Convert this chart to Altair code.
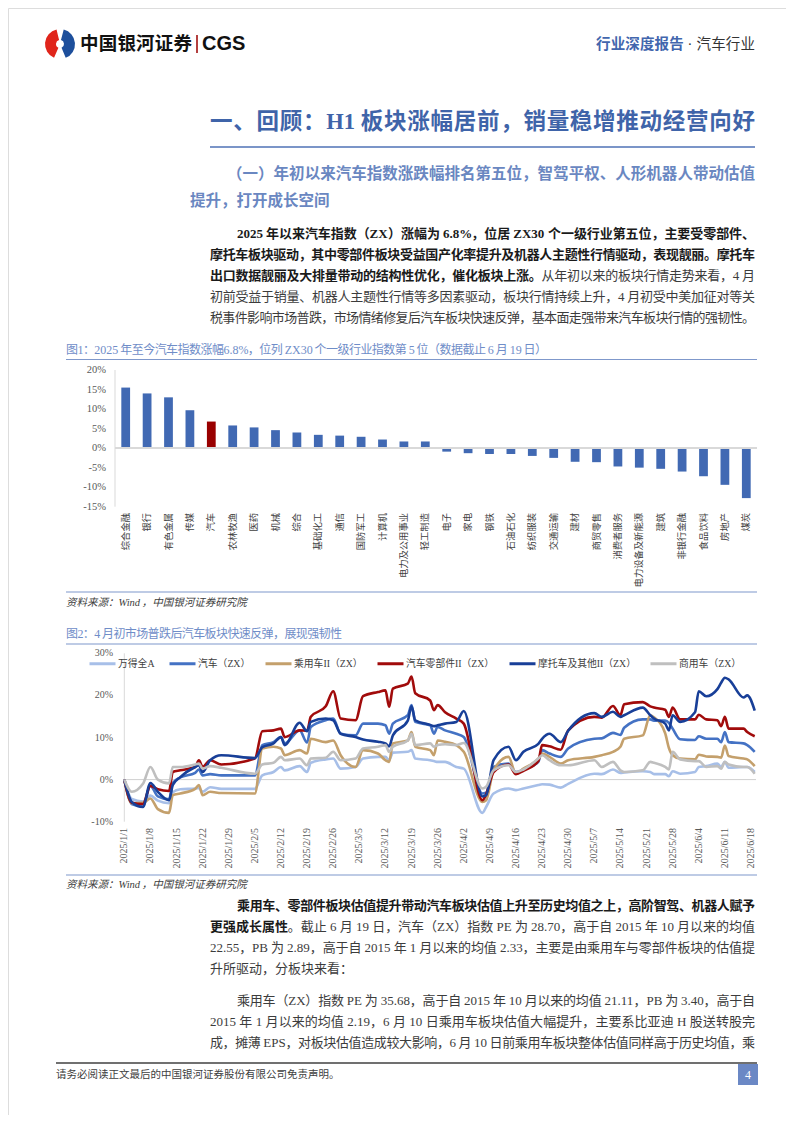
import altair as alt
import pandas as pd

SERIF = "Liberation Serif, Noto Sans CJK SC"
SANS = "Liberation Sans, Noto Sans CJK SC"

# ---------------- Figure 1 data ----------------
industries = ["综合金融", "银行", "有色金属", "传媒", "汽车", "农林牧渔", "医药", "机械", "综合", "基础化工",
              "通信", "国防军工", "计算机", "电力及公用事业", "轻工制造", "电子", "家电", "钢铁", "石油石化", "纺织服装",
              "交通运输", "建材", "商贸零售", "消费者服务", "电力设备及新能源", "建筑", "非银行金融", "食品饮料", "房地产", "煤炭"]
returns_pct = [15.5, 14.0, 13.0, 9.7, 6.8, 5.8, 5.3, 4.6, 4.0, 3.4,
               3.2, 2.9, 2.2, 1.7, 1.7, -0.9, -1.3, -1.5, -1.5, -2.0,
               -2.5, -3.5, -3.6, -4.7, -5.0, -5.3, -6.0, -7.2, -9.4, -12.8]
highlight_industry = "汽车"
bar_tick_values = [20, 15, 10, 5, 0, -5, -10, -15]

# ---------------- Figure 2 data ----------------
trade_dates = ["2025-01-01", "2025-01-03", "2025-01-06", "2025-01-08", "2025-01-10", "2025-01-13", "2025-01-14",
               "2025-01-16", "2025-01-20", "2025-01-21", "2025-01-22", "2025-01-24", "2025-01-27",
               "2025-02-05", "2025-02-07", "2025-02-10", "2025-02-12", "2025-02-13", "2025-02-17", "2025-02-19",
               "2025-02-20", "2025-02-24", "2025-02-26", "2025-02-28", "2025-03-04", "2025-03-06", "2025-03-10",
               "2025-03-12", "2025-03-13", "2025-03-14", "2025-03-18", "2025-03-19", "2025-03-20", "2025-03-24",
               "2025-03-25", "2025-03-26", "2025-03-28", "2025-03-31", "2025-04-02",
               "2025-04-07", "2025-04-08", "2025-04-10", "2025-04-14", "2025-04-16", "2025-04-18", "2025-04-22",
               "2025-04-23", "2025-04-25", "2025-04-28", "2025-04-30",
               "2025-05-07", "2025-05-09", "2025-05-12", "2025-05-14", "2025-05-15", "2025-05-20", "2025-05-22",
               "2025-05-23", "2025-05-26", "2025-05-27", "2025-05-28", "2025-05-30", "2025-06-03", "2025-06-04",
               "2025-06-06", "2025-06-09", "2025-06-10", "2025-06-11", "2025-06-12", "2025-06-16", "2025-06-17",
               "2025-06-19"]
series_names = ["万得全A", "汽车（ZX）", "乘用车II（ZX）", "汽车零部件II（ZX）", "摩托车及其他II（ZX）", "商用车（ZX）"]
series_colors = ["#a7bfe8", "#4472c4", "#c4a06c", "#a10b0b", "#183f98", "#bfbfbf"]
wind_all_a = [0, -4.6, -5.2, -3.8, -5.0, -5.6, -3.0, -2.3, -2.1, -2.0, -2.9, -1.8, -2.2,
              -2.2, 1.0, 1.8, 3.0, 2.2, 3.2, 1.8, 4.0, 4.8, 5.0, 2.6, 3.0, 5.0, 5.4, 5.4, 4.6, 6.4, 6.6, 7.0, 5.0,
              4.6, 4.4, 4.2, 4.2, 3.0, 2.6,
              -7.9, -6.5, -3.3, -2.1, -2.5, -2.1, -1.3, -1.1, -1.2, -1.9, -1.0,
              1.4, 1.3, 2.4, 1.6, 1.7, 2.0, 1.8, 1.3, 1.3, 0.8, 2.0, 1.4, 1.8, 3.0, 3.2, 3.8, 3.0, 4.2, 2.8, 3.0,
              3.0, 1.8]
auto_zx = [0, -5.8, -6.4, -1.5, -4.0, -4.7, -0.8, 0.5, 1.6, 2.4, 1.0, 1.3, 1.0,
           1.0, 8.2, 8.9, 10.1, 8.6, 11.7, 8.8, 12.5, 14.1, 14.5, 10.9, 10.5, 13.3, 13.3, 12.9, 10.9, 13.3, 15.3,
           17.7, 13.7, 12.9, 10.9, 12.5, 11.7, 10.9, 10.1,
           -3.3, -3.1, 3.0, 3.8, 1.8, 2.4, 4.2, 7.0, 6.2, 5.4, 7.4,
           9.7, 9.8, 11.1, 10.6, 12.3, 14.3, 14.3, 14.0, 14.0, 13.5, 12.1, 9.6, 9.4, 10.3, 9.7, 9.7, 8.9, 11.3,
           8.9, 8.6, 8.2, 6.6]
passenger_car = [0, -5.6, -5.5, -4.5, -7.0, -7.9, -3.7, -3.3, -2.2, -1.3, -3.7, -2.9, -3.2,
                 -3.3, 7.4, 7.8, 7.4, 5.8, 7.0, 6.2, 9.7, 8.9, 9.3, 5.8, 3.0, 7.0, 6.2, 4.6, 4.2, 8.6, 9.3, 11.3,
                 7.8, 7.0, 5.8, 9.3, 9.0, 8.2, 6.6,
                 -5.3, -4.9, 2.2, 5.4, 1.4, 2.6, 5.0, 6.2, 5.4, 3.8, 4.6,
                 5.4, 5.8, 6.6, 7.8, 9.7, 10.5, 15.3, 14.8, 11.0, 7.5, 5.8, 5.0, 4.8, 5.9, 5.5, 5.4, 5.2, 8.1, 5.6,
                 5.0, 4.8, 3.2]
auto_parts = [0, -5.5, -5.8, -1.5, -2.3, -2.7, 1.8, 2.2, 3.0, 4.6, 3.0, 4.6, 3.6,
              5.0, 11.5, 11.7, 12.1, 10.1, 11.7, 11.6, 14.9, 17.4, 21.0, 14.5, 14.1, 19.8, 20.8, 21.2, 17.3, 21.6,
              22.8, 24.5, 20.5, 18.8, 16.5, 17.7, 16.0, 14.5, 13.3,
              -4.9, -3.5, 1.8, 3.6, 1.3, 2.1, 4.4, 8.2, 7.9, 7.1, 11.7,
              14.9, 14.7, 17.5, 15.3, 17.9, 18.4, 17.4, 17.1, 16.6, 14.9, 17.1, 14.3, 14.3, 15.4, 14.3, 14.1, 12.7,
              14.9, 12.1, 12.1, 11.3, 10.3]
motorcycle = [0, -5.3, -6.5, -0.8, -2.9, -4.9, -1.3, 0.6, 3.0, 3.4, 1.8, 4.6, 5.8,
              5.1, 7.7, 8.6, 10.1, 8.2, 13.5, 11.5, 13.7, 14.5, 14.1, 10.9, 10.1, 9.5, 9.0, 8.6, 7.9, 10.5, 14.0,
              17.4, 14.1, 13.0, 12.7, 12.9, 13.3, 13.7, 16.3,
              -4.0, -3.7, 4.6, 7.8, 4.6, 6.6, 8.5, 9.7, 10.9, 8.9, 11.6,
              15.8, 14.9, 16.1, 14.9, 15.3, 17.1, 15.3, 14.5, 13.3, 11.7, 15.3, 13.7, 16.0, 21.0, 19.8, 21.5, 23.0,
              24.2, 23.8, 19.5, 20.0, 16.4]
commercial_vehicle = [0, -2.9, -1.0, 3.0, 0.0, -0.9, 3.0, 3.0, 3.6, 3.8, 2.6, 3.2, 2.8,
                      1.4, 3.6, 4.0, 5.4, 4.6, 5.0, 3.4, 5.0, 5.2, 6.6, 4.6, 5.0, 7.4, 7.8, 8.2, 6.6, 7.8, 9.3, 10.9,
                      8.2, 8.6, 7.8, 8.2, 8.4, 8.2, 8.7,
                      -2.1, -1.7, 2.2, 3.4, 1.8, 2.4, 5.0, 5.8, 4.6, 3.4, 3.4,
                      4.6, 3.0, 4.2, 2.2, 1.8, 2.2, 4.2, 4.0, 3.0, 2.4, 6.6, 4.8, 4.4, 4.4, 3.0, 3.2, 2.6, 4.2, 3.6,
                      3.0, 3.0, 1.4]
line_tick_values = [30, 20, 10, 0, -10]
date_ticks = ["2025-01-01", "2025-01-08", "2025-01-15", "2025-01-22", "2025-01-29", "2025-02-05", "2025-02-12",
              "2025-02-19", "2025-02-26", "2025-03-05", "2025-03-12", "2025-03-19", "2025-03-26", "2025-04-02",
              "2025-04-09", "2025-04-16", "2025-04-23", "2025-04-30", "2025-05-07", "2025-05-14", "2025-05-21",
              "2025-05-28", "2025-06-04", "2025-06-11", "2025-06-18"]

# ---------------- page text ----------------
header_brand = "中国银河证券"
header_brand_latin = "CGS"
header_right = ["行业深度报告", " · ", "汽车行业"]
heading = "一、回顾：H1 板块涨幅居前，销量稳增推动经营向好"
subheading = ["（一）年初以来汽车指数涨跌幅排名第五位，智驾平权、人形机器人带动估值", "提升，打开成长空间"]
para1 = [
    [("2025 年以来汽车指数（ZX）涨幅为 6.8%，位居 ZX30 个一级行业第五位，主要受零部件、", "b")],
    [("摩托车板块驱动，其中零部件板块受益国产化率提升及机器人主题性行情驱动，表现靓丽。摩托车", "b")],
    [("出口数据靓丽及大排量带动的结构性优化，催化板块上涨。", "b"), ("从年初以来的板块行情走势来看，4 月", "n")],
    [("初前受益于销量、机器人主题性行情等多因素驱动，板块行情持续上升，4 月初受中美加征对等关", "n")],
    [("税事件影响市场普跌，市场情绪修复后汽车板块快速反弹，基本面走强带来汽车板块行情的强韧性。", "n")],
]
fig1_title = "图1：2025 年至今汽车指数涨幅6.8%，位列 ZX30 个一级行业指数第 5 位（数据截止 6 月 19 日）"
fig2_title = "图2：4 月初市场普跌后汽车板块快速反弹，展现强韧性"
source_note = "资料来源：Wind，中国银河证券研究院"
para2 = [
    [("乘用车、零部件板块估值提升带动汽车板块估值上升至历史均值之上，高阶智驾、机器人赋予", "b")],
    [("更强成长属性", "b"), ("。截止 6 月 19 日，汽车（ZX）指数 PE 为 28.70，高于自 2015 年 10 月以来的均值", "n")],
    [("22.55，PB 为 2.89，高于自 2015 年 1 月以来的均值 2.33，主要是由乘用车与零部件板块的估值提", "n")],
    [("升所驱动，分板块来看：", "n")],
]
para3 = [
    [("乘用车（ZX）指数 PE 为 35.68，高于自 2015 年 10 月以来的均值 21.11，PB 为 3.40，高于自", "n")],
    [("2015 年 1 月以来的均值 2.19，6 月 10 日乘用车板块估值大幅提升，主要系比亚迪 H 股送转股完", "n")],
    [("成，摊薄 EPS，对板块估值造成较大影响，6 月 10 日前乘用车板块整体估值同样高于历史均值，乘", "n")],
]
footer_note = "请务必阅读正文最后的中国银河证券股份有限公司免责声明。"
page_number = "4"

# ---------------- colours ----------------
C_HEAD = "#3f64a9"
C_SUB = "#6a87c1"
C_FIG = "#6f8dc8"
C_FIGRULE = "#7f98cb"
C_BOLD = "#1a1a1a"
C_TEXT = "#3c3c3c"
C_GREY = "#404040"
C_AXIS = "#595959"
C_BAR = "#4169b3"
C_BAR_HL = "#990000"

M = 8  # page margin: page coordinate -> chart coordinate

# ---------------- text layout helpers ----------------
LAT = {"0": .5, "1": .5, "2": .5, "3": .5, "4": .5, "5": .5, "6": .5, "7": .5, "8": .5, "9": .5,
       ".": .25, ",": .25, "%": .833, " ": .25, "/": .278, "A": .722, "B": .667, "C": .667, "E": .611,
       "G": .722, "H": .722, "I": .333, "P": .556, "S": .556, "X": .722, "Z": .611, "W": .944,
       "i": .278, "n": .5, "d": .5, "·": .35}


def cw(ch, size, bold):
    if ord(ch) >= 0x2E80:
        return size
    w = LAT.get(ch, 0.5)
    if bold and ch in "Z%":
        w += 0.1
    return w * size


def split_tokens(text):
    toks, buf = [], ""
    for ch in text:
        if ord(ch) >= 0x2E80 or ch == " ":
            if buf:
                toks.append(buf)
                buf = ""
            toks.append(ch)
        else:
            buf += ch
    if buf:
        toks.append(buf)
    return toks


rows = []


def place(segs, y, x0, x1=None, size=13.0):
    toks = []
    for text, grp, color in segs:
        for t in split_tokens(text):
            toks.append((t, grp, color))
    ws = [sum(cw(c, size, grp in ("b", "sb")) for c in t) for t, _, _ in toks]
    gap = 0.0
    if x1 is not None and len(toks) > 1:
        gap = (x1 - x0 - sum(ws)) / (len(toks) - 1)
    x = x0
    for (t, grp, color), w in zip(toks, ws):
        if t.strip():
            rows.append({"x": x - M, "y": y - M, "t": t, "grp": grp, "color": color, "size": size})
        x += w + gap


# header
place([(header_brand, "sb", "#111111")], 44, 80, 192, 18.5)
place([(header_brand_latin, "sb", "#111111")], 44, 202, None, 20)
place([(header_right[0], "b", "#4266ad"), (header_right[1], "n", "#333333"), (header_right[2], "n", "#333333")],
      45, 596, 755, 14.5)
# headings
place([(heading, "b", C_HEAD)], 122, 210, 755, 22.5)
place([(subheading[0], "b", C_SUB)], 174, 227, 755, 15.5)
place([(subheading[1], "b", C_SUB)], 201, 190, None, 15.5)


def paragraph(lines, y0, justify_last=True):
    for i, segs in enumerate(lines):
        full = [(t, g, C_BOLD if g == "b" else C_TEXT) for t, g in segs]
        x0 = 237 if i == 0 else 210
        last = i == len(lines) - 1
        place(full, y0 + 21 * i, x0, 755 if (justify_last or not last) else None, 13)


paragraph(para1, 234)
place([(fig1_title, "n", C_FIG)], 350, 66, 547, 12)
place([(source_note, "i", C_GREY)], 603, 66, None, 10.5)
place([(fig2_title, "n", C_FIG)], 633.5, 66, 342, 12)
place([(source_note, "i", C_GREY)], 885, 66, None, 10.5)
paragraph(para2, 906, justify_last=False)
paragraph(para3, 1001)
place([(footer_note, "n", C_GREY)], 1075, 56, None, 10.5)
place([(page_number, "n", "#ffffff")], 1075, 745, None, 12)

text_df = pd.DataFrame(rows)
GROUPS = {
    "n": dict(font=SERIF, fontWeight="normal", fontStyle="normal"),
    "b": dict(font=SERIF, fontWeight="bold", fontStyle="normal"),
    "i": dict(font=SERIF, fontWeight="normal", fontStyle="italic"),
    "sb": dict(font=SANS, fontWeight="bold", fontStyle="normal"),
}


def pix(field):
    return alt.X(field, scale=None, axis=None)


def piy(field):
    return alt.Y(field, scale=None, axis=None)


layers = []

# decorative rules (page furniture)
rules_df = pd.DataFrame([
    dict(x=210, x2=755, y=147, y2=147, c="#4f72b6", w=1.5),
    dict(x=66, x2=757, y=359.5, y2=359.5, c=C_FIGRULE, w=1.2),
    dict(x=66, x2=757, y=592, y2=592, c=C_FIGRULE, w=1.2),
    dict(x=66, x2=757, y=644, y2=644, c=C_FIGRULE, w=1.2),
    dict(x=66, x2=757, y=875, y2=875, c=C_FIGRULE, w=1.2),
    dict(x=56, x2=757, y=1063, y2=1063, c="#404040", w=1.5),
    dict(x=197, x2=197, y=35, y2=53, c="#a01010", w=1.6),
])
for col in ["x", "x2", "y", "y2"]:
    rules_df[col] = rules_df[col] - M
layers.append(alt.Chart(rules_df).mark_rule().encode(
    x=pix("x:Q"), x2="x2:Q", y=piy("y:Q"), y2="y2:Q",
    color=alt.Color("c:N", scale=None), strokeWidth=alt.StrokeWidth("w:Q", scale=None)))

# page number box
box_df = pd.DataFrame([dict(x=738 - M, x2=758 - M, y=1064 - M, y2=1085 - M)])
layers.append(alt.Chart(box_df).mark_rect(color="#6b88c5").encode(
    x=pix("x:Q"), x2="x2:Q", y=piy("y:Q"), y2="y2:Q"))

# logo
logo_df = pd.DataFrame({"a0": [3.55, 0.25], "a1": [6.05, 2.75], "c": ["#e0251b", "#1d4f9c"]})
layers.append(alt.Chart(logo_df).mark_arc(innerRadius=4, outerRadius=15).encode(
    theta=alt.Theta("a0:Q", scale=None), theta2="a1:Q", color=alt.Color("c:N", scale=None),
    x=alt.value(60 - M), y=alt.value(44 - M)))

# page text
for key, props in GROUPS.items():
    sub = text_df[text_df["grp"] == key]
    if len(sub) == 0:
        continue
    layers.append(alt.Chart(sub).mark_text(align="left", baseline="middle", **props).encode(
        x=pix("x:Q"), y=piy("y:Q"), text="t:N",
        color=alt.Color("color:N", scale=None), size=alt.Size("size:Q", scale=None)))

# ---------------- Figure 1: bar chart ----------------
bar_df = pd.DataFrame({"industry": industries, "ret": returns_pct})
bar_df["hl"] = ["auto" if i == highlight_industry else "other" for i in industries]
xb = alt.Scale(domain=industries, range=[115 - M, 757 - M], paddingInner=0.59, paddingOuter=0.295)
yb = alt.Scale(domain=[-15, 20], range=[506.7 - M, 370 - M], nice=False, zero=False)

layers.append(alt.Chart(pd.DataFrame({"v": [20], "v2": [-15]})).mark_rule(color="#d9d9d9", strokeWidth=1).encode(
    x=alt.value(115 - M), y=alt.Y("v:Q", scale=yb, axis=None), y2="v2:Q"))
layers.append(alt.Chart(bar_df).mark_bar().encode(
    x=alt.X("industry:N", scale=xb, axis=None, sort=industries),
    y=alt.Y("ret:Q", scale=yb, axis=None), y2=alt.datum(0),
    color=alt.Color("hl:N", scale=alt.Scale(domain=["other", "auto"], range=[C_BAR, C_BAR_HL]), legend=None)))
layers.append(alt.Chart(pd.DataFrame({"v": [0]})).mark_rule(color="#d9d9d9", strokeWidth=2).encode(
    y=alt.Y("v:Q", scale=yb, axis=None), x=alt.value(115 - M), x2=alt.value(757 - M)))
bar_tick_df = pd.DataFrame({"v": bar_tick_values, "lab": [f"{v}%" for v in bar_tick_values]})
layers.append(alt.Chart(bar_tick_df).mark_text(align="right", baseline="middle", font=SERIF, fontSize=10.5,
                                               color=C_AXIS).encode(
    x=alt.value(106 - M), y=alt.Y("v:Q", scale=yb, axis=None), text="lab:N"))
layers.append(alt.Chart(bar_df).mark_text(angle=270, align="right", baseline="middle", font=SERIF, fontSize=9.3,
                                          color=C_GREY).encode(
    x=alt.X("industry:N", scale=xb, axis=None, sort=industries), y=alt.value(513 - M), text="industry:N"))

# ---------------- Figure 2: line chart ----------------
values_by_series = [wind_all_a, auto_zx, passenger_car, auto_parts, motorcycle, commercial_vehicle]
line_rows = []
for name, vals in zip(series_names, values_by_series):
    for d, v in zip(trade_dates, vals):
        line_rows.append({"date": d + "T00:00:00", "series": name, "v": v})
line_df = pd.DataFrame(line_rows)

xt = alt.Scale(domain=[alt.DateTime(year=2025, month=1, date=1), alt.DateTime(year=2025, month=6, date=19)],
               range=[124.3 - M, 754.7 - M])
yl = alt.Scale(domain=[-10, 30], range=[821.7 - M, 653.3 - M], nice=False, zero=False)

layers.append(alt.Chart(pd.DataFrame({"v": [30], "v2": [-10]})).mark_rule(color="#d9d9d9", strokeWidth=1).encode(
    x=alt.value(124.3 - M), y=alt.Y("v:Q", scale=yl, axis=None), y2="v2:Q"))
layers.append(alt.Chart(pd.DataFrame({"v": [0]})).mark_rule(color="#d0d0d0", strokeWidth=1).encode(
    y=alt.Y("v:Q", scale=yl, axis=None), x=alt.value(124.3 - M), x2=alt.value(756 - M)))
layers.append(alt.Chart(line_df).mark_line(interpolate="monotone", strokeWidth=2.6).encode(
    x=alt.X("date:T", scale=xt, axis=None),
    y=alt.Y("v:Q", scale=yl, axis=None),
    color=alt.Color("series:N", scale=alt.Scale(domain=series_names, range=series_colors),
                    legend=alt.Legend(orient="none", legendX=88 - M, legendY=649 - M, direction="horizontal",
                                      title=None, symbolType="stroke", symbolSize=676, symbolStrokeWidth=3,
                                      labelFont=SERIF, labelFontSize=9.8, labelColor=C_GREY, columnPadding=8,
                                      labelOffset=1, padding=0, labelLimit=300))))
line_tick_df = pd.DataFrame({"v": line_tick_values, "lab": [f"{v}%" for v in line_tick_values]})
layers.append(alt.Chart(line_tick_df).mark_text(align="right", baseline="middle", font=SERIF, fontSize=10,
                                                color=C_AXIS).encode(
    x=alt.value(113 - M), y=alt.Y("v:Q", scale=yl, axis=None), text="lab:N"))
date_df = pd.DataFrame({"date": [d + "T00:00:00" for d in date_ticks],
                        "lab": ["{}/{}/{}".format(*[int(p) for p in d.split("-")]) for d in date_ticks]})
layers.append(alt.Chart(date_df).mark_text(angle=270, align="right", baseline="middle", font=SERIF, fontSize=10,
                                           color=C_AXIS).encode(
    x=alt.X("date:T", scale=xt, axis=None), y=alt.value(828 - M), text="lab:N"))

chart = alt.layer(*layers).resolve_scale(
    x="independent", y="independent", color="independent", size="independent", strokeWidth="independent"
).properties(width=778, height=1107, padding=0, autosize=alt.AutoSizeParams(type="none")
             ).configure_view(stroke=None).configure(background="white")

chart.save("out.html", embed_options={"renderer": "svg", "actions": False})
